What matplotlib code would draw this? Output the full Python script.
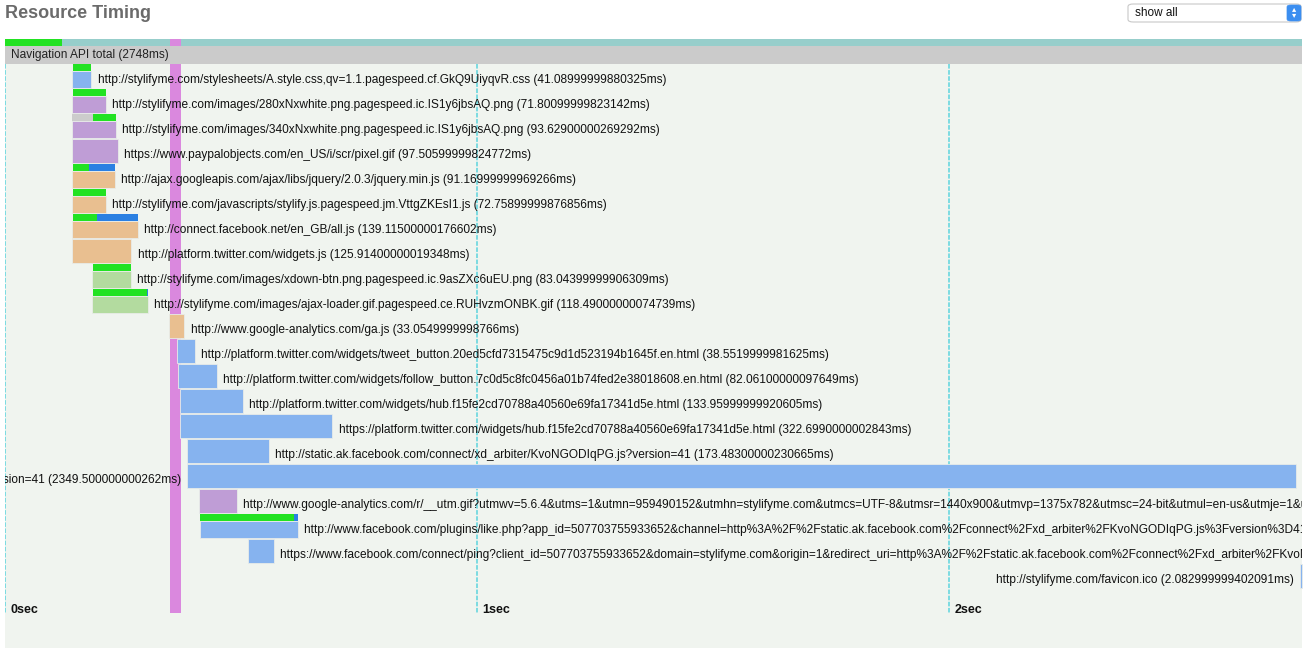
#!/usr/bin/env python3
# Resource timing waterfall for stylifyme.com

import matplotlib.pyplot as plt
from matplotlib.patches import FancyBboxPatch

plt.rcParams['font.family'] = ['Liberation Sans', 'DejaVu Sans']

total_ms = 2748
nav_bar_ms = 121          # green part of the navigation strip
dom_event = (350, 23)     # pink marker: start, width (ms)

urls = [
    'http://stylifyme.com/stylesheets/A.style.css,qv=1.1.pagespeed.cf.GkQ9UiyqvR.css',
    'http://stylifyme.com/images/280xNxwhite.png.pagespeed.ic.IS1y6jbsAQ.png',
    'http://stylifyme.com/images/340xNxwhite.png.pagespeed.ic.IS1y6jbsAQ.png',
    'https://www.paypalobjects.com/en_US/i/scr/pixel.gif',
    'http://ajax.googleapis.com/ajax/libs/jquery/2.0.3/jquery.min.js',
    'http://stylifyme.com/javascripts/stylify.js.pagespeed.jm.VttgZKEsI1.js',
    'http://connect.facebook.net/en_GB/all.js',
    'http://platform.twitter.com/widgets.js',
    'http://stylifyme.com/images/xdown-btn.png.pagespeed.ic.9asZXc6uEU.png',
    'http://stylifyme.com/images/ajax-loader.gif.pagespeed.ce.RUHvzmONBK.gif',
    'http://www.google-analytics.com/ga.js',
    'http://platform.twitter.com/widgets/tweet_button.20ed5cfd7315475c9d1d523194b1645f.en.html',
    'http://platform.twitter.com/widgets/follow_button.7c0d5c8fc0456a01b74fed2e38018608.en.html',
    'http://platform.twitter.com/widgets/hub.f15fe2cd70788a40560e69fa17341d5e.html',
    'https://platform.twitter.com/widgets/hub.f15fe2cd70788a40560e69fa17341d5e.html',
    'http://static.ak.facebook.com/connect/xd_arbiter/KvoNGODIqPG.js?version=41',
    'http://static.ak.facebook.com/connect/xd_arbiter.php?version=41',
    'http://www.google-analytics.com/r/__utm.gif?utmwv=5.6.4&utms=1&utmn=959490152&utmhn=stylifyme.com'
    '&utmcs=UTF-8&utmsr=1440x900&utmvp=1375x782&utmsc=24-bit&utmul=en-us&utmje=1&utmfl=-&utmdt=StylifyMe',
    'http://www.facebook.com/plugins/like.php?app_id=507703755933652&channel=http%3A%2F%2Fstatic.ak.facebook.com'
    '%2Fconnect%2Fxd_arbiter%2FKvoNGODIqPG.js%3Fversion%3D41%23cb%3Df1a2b3c%26domain%3Dstylifyme.com',
    'https://www.facebook.com/connect/ping?client_id=507703755933652&domain=stylifyme.com&origin=1'
    '&redirect_uri=http%3A%2F%2Fstatic.ak.facebook.com%2Fconnect%2Fxd_arbiter%2FKvoNGODIqPG.js',
    'http://stylifyme.com/favicon.ico',
]
durations = ['41.08999999880325', '71.80099999823142', '93.62900000269292', '97.50599999824772',
             '91.16999999969266', '72.75899999876856', '139.11500000176602', '125.91400000019348',
             '83.04399999906309', '118.49000000074739', '33.0549999998766', '38.5519999981625',
             '82.06100000097649', '133.95999999920605', '322.6990000002843', '173.48300000230665',
             '2349.500000000262', '80.9', '208.0', '55.0', '2.082999999402091']
starts = [142, 142, 142, 142, 142, 142, 142, 142, 184, 184, 347, 364, 367, 371, 371, 386, 386,
          411, 413, 515, 2744]
kinds = ['doc', 'img', 'img', 'img', 'js', 'js', 'js', 'js', 'gif', 'gif', 'js', 'doc', 'doc',
         'doc', 'doc', 'doc', 'doc', 'img', 'doc', 'doc', 'doc']
# small timing strip above some bars: row -> [(start, length, part)]
strips = {
    0: [(144, 38, 'ttfb')],
    1: [(144, 70, 'ttfb')],
    2: [(142, 44, 'wait'), (186, 49, 'ttfb')],
    4: [(144, 34, 'ttfb'), (178, 55, 'recv')],
    5: [(144, 70, 'ttfb')],
    6: [(144, 51, 'ttfb'), (195, 87, 'recv')],
    8: [(186, 81, 'ttfb')],
    9: [(186, 115, 'ttfb'), (301, 3, 'recv')],
    18: [(413, 199, 'ttfb'), (612, 9, 'recv')],
}
ticks_ms = [0, 1000, 2000]
tick_labels = ['0sec', '1sec', '2sec']

bar_colors = {'doc': '#86b3ef', 'img': '#bf9dd6', 'js': '#e9bf90', 'gif': '#b3db9f'}
strip_colors = {'ttfb': '#22e222', 'recv': '#2b80e2', 'wait': '#cccccc'}

W, H = 1307, 653
fig = plt.figure(figsize=(W / 100, H / 100), dpi=100)
fig.patch.set_facecolor('white')
# axes in ms across, rows of 25px down (row 0 top at pixel 64)
ax = fig.add_axes([5 / W, 5 / H, 1297 / W, 609 / H])
ax.set_facecolor('#f0f4ef')
ax.set_xlim(0, total_ms)
ax.set_ylim(23.36, -1.0)
ax.axis('off')
ax.add_patch(plt.Rectangle((0, 0), 1, 1, transform=ax.transAxes, color='#f0f4ef', zorder=0))

# navigation strip + header
ax.broken_barh([(0, total_ms)], (-1.0, 0.26), facecolors='#97cecb', zorder=1)
ax.broken_barh([(0, nav_bar_ms)], (-1.0, 0.26), facecolors='#22e222', zorder=1.2)
ax.broken_barh([(dom_event[0], dom_event[1])], (-1.0, 22.96), facecolors='#da88de', zorder=1.5)
ax.broken_barh([(0, total_ms)], (-0.74, 0.72), facecolors='#cbcbcb', zorder=4)
ax.text(12, -0.36, 'Navigation API total (%dms)' % total_ms, fontsize=8.6, va='center',
        color='#222222', zorder=5)

# second markers
for t, lab in zip(ticks_ms, tick_labels):
    ax.vlines(t, -0.02, 21.96, colors='#5cd4de', linewidth=1.1, linestyles=(0, (3, 1)), zorder=1.4)
    ax.text(t + 12, 21.84, lab, fontsize=9, fontweight='bold', va='center', color='#111111', zorder=5)

for i, (url, dur, st, kind) in enumerate(zip(urls, durations, starts, kinds)):
    length = float(dur)
    if i in strips:
        ax.broken_barh([(st, length)], (i + 0.28, 0.68), facecolors=bar_colors[kind],
                       edgecolors='#e8ece8', linewidth=0.6, zorder=2)
        for s0, sl, part in strips[i]:
            ax.broken_barh([(s0, sl)], (i, 0.26), facecolors=strip_colors[part], zorder=2)
    else:
        ax.broken_barh([(st, max(length, 4))], (i, 0.96), facecolors=bar_colors[kind],
                       edgecolors='#e8ece8', linewidth=0.6, zorder=2)
    label = '%s (%sms)' % (url, dur)
    if st + length > 0.8 * total_ms:
        ax.text(st - 13, i + 0.64, label, fontsize=8.6, ha='right', va='center',
                color='#111111', clip_on=True, zorder=5)
    else:
        ax.text(st + length + 13, i + 0.64, label, fontsize=8.6, ha='left', va='center',
                color='#111111', clip_on=True, zorder=5)

# title and the "show all" select box
fig.text(5 / W, 1 - 13 / H, 'Resource Timing', fontsize=13, fontweight='bold',
         color='#6b6b6b', va='center')
fig.patches.append(FancyBboxPatch((1128 / W, 1 - 22 / H), 173 / W, 18 / H,
                                  boxstyle='round,pad=0,rounding_size=0.004',
                                  transform=fig.transFigure, facecolor='white',
                                  edgecolor='#c8c8c8', linewidth=0.8))
fig.patches.append(FancyBboxPatch((1287 / W, 1 - 21 / H), 14 / W, 16 / H,
                                  boxstyle='round,pad=0,rounding_size=0.003',
                                  transform=fig.transFigure, facecolor='#3b8ef0',
                                  edgecolor='#3b8ef0', linewidth=0.5))
fig.text(1135 / W, 1 - 13 / H, 'show all', fontsize=8.5, color='#111111', va='center')
fig.text(1294 / W, 1 - 10 / H, '\u25b4', fontsize=6, color='white', ha='center', va='center')
fig.text(1294 / W, 1 - 16 / H, '\u25be', fontsize=6, color='white', ha='center', va='center')

plt.savefig('out.png', dpi=100)
